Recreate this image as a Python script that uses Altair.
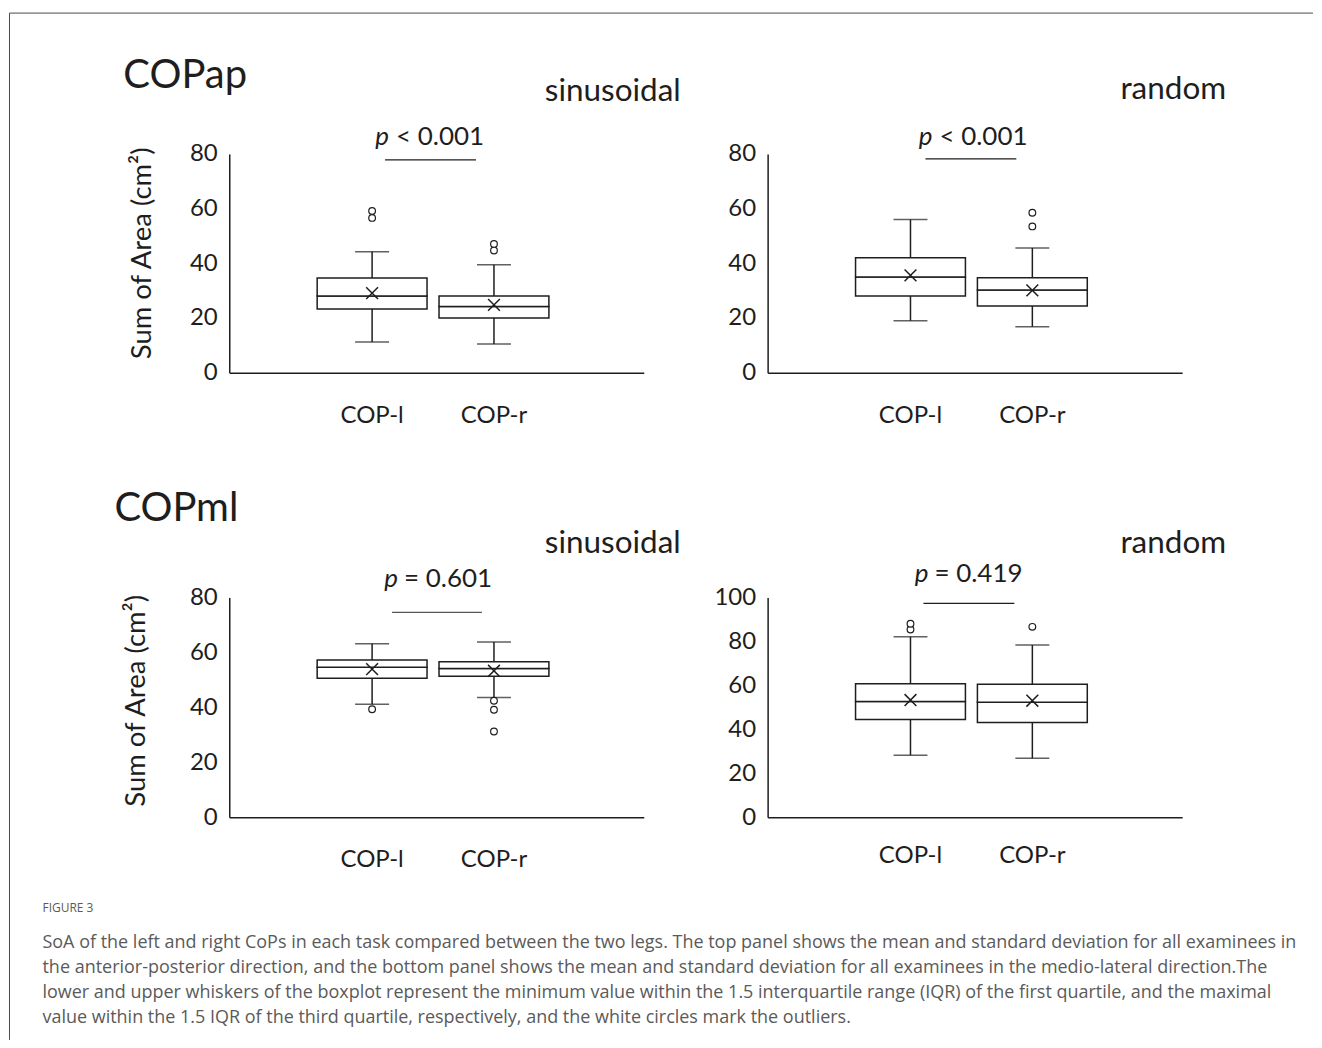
import altair as alt
import pandas as pd

SIDES = ["COP-l", "COP-r"]
ROW_TITLES = ["COPap", "COPml"]
TASKS = ["sinusoidal", "random"]
Y_TITLE = "Sum of Area (cm\u00b2)"
CAPTION_HEAD = "FIGURE 3"
CAPTION_LINES = [
    "SoA of the left and right CoPs in each task compared between the two legs. The top panel shows the mean and standard deviation for all examinees in",
    "the anterior-posterior direction, and the bottom panel shows the mean and standard deviation for all examinees in the medio-lateral direction.The",
    "lower and upper whiskers of the boxplot represent the minimum value within the 1.5 interquartile range (IQR) of the first quartile, and the maximal",
    "value within the 1.5 IQR of the third quartile, respectively, and the white circles mark the outliers.",
]

# ---- COPap, sinusoidal (COP-l, COP-r)
AP_SIN_LOW = [11.2, 10.5]
AP_SIN_Q1 = [23.3, 20.0]
AP_SIN_MED = [28.0, 24.2]
AP_SIN_Q3 = [34.6, 28.0]
AP_SIN_HIGH = [44.2, 39.5]
AP_SIN_MEAN = [29.1, 24.8]
AP_SIN_OUT_L = [56.6, 59.1]
AP_SIN_OUT_R = [44.7, 47.1]
AP_SIN_P = "< 0.001"

# ---- COPap, random
AP_RAN_LOW = [19.0, 16.8]
AP_RAN_Q1 = [28.0, 24.4]
AP_RAN_MED = [35.0, 30.2]
AP_RAN_Q3 = [42.0, 34.7]
AP_RAN_HIGH = [56.0, 45.6]
AP_RAN_MEAN = [35.6, 30.1]
AP_RAN_OUT_L = []
AP_RAN_OUT_R = [53.5, 58.5]
AP_RAN_P = "< 0.001"

# ---- COPml, sinusoidal
ML_SIN_LOW = [41.1, 43.6]
ML_SIN_Q1 = [50.6, 51.3]
ML_SIN_MED = [54.6, 54.1]
ML_SIN_Q3 = [57.2, 56.6]
ML_SIN_HIGH = [63.1, 63.8]
ML_SIN_MEAN = [53.9, 53.3]
ML_SIN_OUT_L = [39.3]
ML_SIN_OUT_R = [42.4, 39.1, 31.2]
ML_SIN_P = "= 0.601"

# ---- COPml, random
ML_RAN_LOW = [28.2, 26.8]
ML_RAN_Q1 = [44.4, 43.1]
ML_RAN_MED = [52.6, 52.3]
ML_RAN_Q3 = [60.7, 60.5]
ML_RAN_HIGH = [82.1, 78.3]
ML_RAN_MEAN = [53.3, 53.0]
ML_RAN_OUT_L = [85.4, 88.0]
ML_RAN_OUT_R = [86.6]
ML_RAN_P = "= 0.419"

TICKS_80 = [0, 20, 40, 60, 80]
TICKS_100 = [0, 20, 40, 60, 80, 100]

INK = "#1e1e1e"
CAP_INK = "#5a5a5a"
FRAME = "#4a4a4a"
XPATH = "M-1,-1L1,1M-1,1L1,-1"
ONE = pd.DataFrame({"k": [0]})
PW = 415
PSIZE = 26
TSIZE = 31.5
HSIZE = 40


def label(t, x, y, size, align="left", italic=False, color=INK, font=None):
    kw = dict(text=t, fontSize=size, align=align, baseline="alphabetic", color=color)
    if italic:
        kw["fontStyle"] = "italic"
    if font:
        kw["font"] = font
    return alt.Chart(ONE).mark_text(**kw).encode(x=alt.value(x), y=alt.value(y))


def hline(x1, x2, y, color=INK, width=1.2):
    return alt.Chart(ONE).mark_rule(color=color, strokeWidth=width).encode(
        x=alt.value(x1), x2=alt.value(x2), y=alt.value(y))


def vline(x, y1, y2, color=INK, width=1.2):
    return alt.Chart(ONE).mark_rule(color=color, strokeWidth=width).encode(
        x=alt.value(x), y=alt.value(y1), y2=alt.value(y2))


def panel(low, q1, med, q3, high, mean, out_l, out_r, ticks, height, xpad,
          ytitle=None, tx=0, ty=0, extras=()):
    df = pd.DataFrame({"side": SIDES, "low": low, "q1": q1, "med": med,
                       "q3": q3, "high": high, "mean": mean})
    odf = pd.DataFrame({"side": ["COP-l"] * len(out_l) + ["COP-r"] * len(out_r),
                        "v": list(out_l) + list(out_r)})
    x = alt.X("side:N", sort=SIDES, title=None,
              scale=alt.Scale(domain=SIDES, paddingInner=0.0984, paddingOuter=0.75, align=0.481),
              axis=alt.Axis(labelAngle=0, ticks=False, tickSize=0, labelPadding=xpad,
                            labelBaseline="alphabetic", labelFontSize=24, labelColor=INK,
                            domainColor=INK, domainWidth=1.5, grid=False))
    akw = dict(values=ticks, grid=False, ticks=False, tickSize=0, labelPadding=12,
               labelFontSize=24, labelColor=INK, domainColor=INK, domainWidth=1.5)
    if ytitle:
        akw.update(titleX=tx, titleY=ty, titleAngle=270, titleAlign="center",
                   titleBaseline="middle", titleFontSize=27.5, titleFontWeight="normal",
                   titleColor=INK)
    yaxis = alt.Axis(**akw)
    ysc = alt.Scale(domain=[0, ticks[-1]], nice=False)

    def Y(f):
        return alt.Y(f"{f}:Q", scale=ysc, axis=yaxis, title=ytitle if ytitle else None)

    base = alt.Chart(df)
    lw = 1.5
    layers = [
        base.mark_rule(color=INK, strokeWidth=lw).encode(x=x, y=Y("low"), y2="q1"),
        base.mark_rule(color=INK, strokeWidth=lw).encode(x=x, y=Y("q3"), y2="high"),
        base.mark_tick(color=INK, size=34, thickness=lw, orient="horizontal").encode(x=x, y=Y("low")),
        base.mark_tick(color=INK, size=34, thickness=lw, orient="horizontal").encode(x=x, y=Y("high")),
        base.mark_bar(fill="white", stroke=INK, strokeWidth=lw).encode(x=x, y=Y("q1"), y2="med"),
        base.mark_bar(fill="white", stroke=INK, strokeWidth=lw).encode(x=x, y=Y("med"), y2="q3"),
        base.mark_point(shape=XPATH, size=140, filled=False, stroke=INK, strokeWidth=lw,
                        opacity=1).encode(x=x, y=Y("mean")),
    ]
    if len(odf):
        layers.append(alt.Chart(odf).mark_point(shape="circle", size=45, fill="white",
                                                stroke=INK, strokeWidth=1.2, opacity=1)
                      .encode(x=x, y=Y("v")))
    layers.extend(extras)
    return alt.layer(*layers).properties(width=PW, height=height)


# top-left (plot origin at page 229,153)
tl_extra = [
    vline(-220, -141, 887, color=FRAME, width=1),
    hline(-220, 1085, -141, color=FRAME, width=1),
    label(ROW_TITLES[0], -106, -66, HSIZE),
    label(TASKS[0], 452, -53, TSIZE, align="right"),
    label("p", 160, -9, PSIZE, align="right", italic=True),
    label(AP_SIN_P, 167, -9, PSIZE),
    hline(156, 247, 6),
]
tl = panel(AP_SIN_LOW, AP_SIN_Q1, AP_SIN_MED, AP_SIN_Q3, AP_SIN_HIGH, AP_SIN_MEAN,
           AP_SIN_OUT_L, AP_SIN_OUT_R, TICKS_80, 219, 50, Y_TITLE, -87, 99, tl_extra)

# top-right (origin 768,153)
tr_extra = [
    label(TASKS[1], 459, -55, TSIZE, align="right"),
    label("p", 165, -9, PSIZE, align="right", italic=True),
    label(AP_RAN_P, 172, -9, PSIZE),
    hline(158, 249, 5),
]
tr = panel(AP_RAN_LOW, AP_RAN_Q1, AP_RAN_MED, AP_RAN_Q3, AP_RAN_HIGH, AP_RAN_MEAN,
           AP_RAN_OUT_L, AP_RAN_OUT_R, TICKS_80, 219, 50, extras=tr_extra)

# bottom-left (origin 229,597)
bl_extra = [
    label(ROW_TITLES[1], -115, -77, HSIZE),
    label(TASKS[0], 452, -44, TSIZE, align="right"),
    label("p", 169, -10, PSIZE, align="right", italic=True),
    label(ML_SIN_P, 175, -10, PSIZE),
    hline(163, 253, 15, color="#555555"),
    label(CAPTION_HEAD, -187, 315, 12, color=CAP_INK, font="Open Sans"),
]
for i, line in enumerate(CAPTION_LINES):
    bl_extra.append(label(line, -187, 351 + 25 * i, 18, color=CAP_INK, font="Open Sans"))
bl = panel(ML_SIN_LOW, ML_SIN_Q1, ML_SIN_MED, ML_SIN_Q3, ML_SIN_HIGH, ML_SIN_MEAN,
           ML_SIN_OUT_L, ML_SIN_OUT_R, TICKS_80, 220, 49, Y_TITLE, -93, 103, bl_extra)

# bottom-right (origin 768,597)
br_extra = [
    label(TASKS[1], 459, -44, TSIZE, align="right"),
    label("p", 161, -15, PSIZE, align="right", italic=True),
    label(ML_RAN_P, 167, -15, PSIZE),
    hline(156, 247, 6),
]
br = panel(ML_RAN_LOW, ML_RAN_Q1, ML_RAN_MED, ML_RAN_Q3, ML_RAN_HIGH, ML_RAN_MEAN,
           ML_RAN_OUT_L, ML_RAN_OUT_R, TICKS_100, 220, 45, extras=br_extra)

chart = (
    alt.concat(tl, tr, bl, br, columns=2, spacing={"row": 225, "column": 124}, bounds="flush")
    .properties(padding={"left": 0.5, "top": 3.5, "right": 0, "bottom": 0})
    .configure(font="Lato")
    .configure_view(stroke=None)
)

chart.save("out.html", embed_options={"renderer": "svg", "actions": False})
